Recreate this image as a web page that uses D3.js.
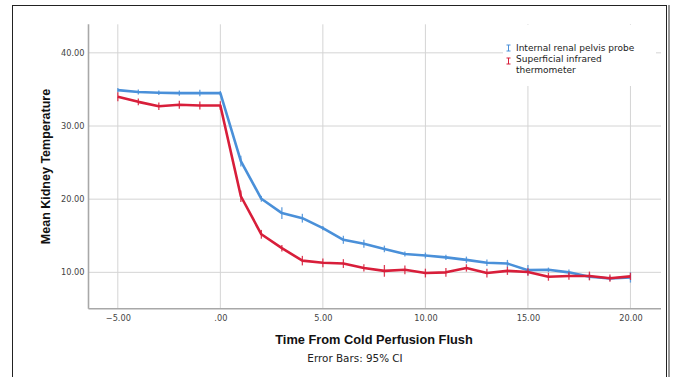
<!DOCTYPE html>
<html>
<head>
<meta charset="utf-8">
<script src="https://cdnjs.cloudflare.com/ajax/libs/d3/7.8.5/d3.min.js"></script>
<style>
  html, body { margin: 0; padding: 0; background: #fff; }
  svg { display: block; font-family: "Liberation Sans", Arial, sans-serif; }
</style>
</head>
<body>
<svg id="chart" width="675" height="377"></svg>
<script>
const times = [-5,-4,-3,-2,-1,0,1,2,3,4,5,6,7,8,9,10,11,12,13,14,15,16,17,18,19,20];
const probeMean = [34.9,34.65,34.55,34.5,34.5,34.5,25.2,20.05,18.1,17.4,16.05,14.45,13.9,13.2,12.5,12.3,12.05,11.7,11.3,11.2,10.3,10.35,10.0,9.4,9.15,9.3];
const probeCI   = [0.3,0.35,0.3,0.35,0.45,0.3,0.75,0.4,0.8,0.6,0.3,0.55,0.55,0.45,0.35,0.4,0.35,0.45,0.45,0.5,0.7,0.3,0.4,0.45,0.35,0.7];
const irMean    = [34.0,33.3,32.7,32.9,32.8,32.8,20.4,15.2,13.3,11.6,11.3,11.2,10.6,10.2,10.35,9.9,10.0,10.6,9.9,10.2,10.05,9.4,9.5,9.5,9.2,9.45];
const irCI      = [0.6,0.45,0.5,0.55,0.55,0.6,0.8,0.6,0.45,0.65,0.6,0.6,0.5,0.8,0.6,0.6,0.6,0.5,0.6,0.55,0.5,0.55,0.5,0.6,0.5,0.5];
const xTicks = [-5,0,5,10,15,20];
const yTicks = [10,20,30,40];
const seriesNames = ["Internal renal pelvis probe", "Superficial infrared\nthermometer"];
const seriesColors = ["#4a90d9", "#d81e3a"];

const svg = d3.select("#chart");

// outer frame
svg.append("rect").attr("x",12.5).attr("y",5.5).attr("width",654).attr("height",400)
  .attr("fill","none").attr("stroke","#222").attr("stroke-width",1);
svg.append("line").attr("x1",669).attr("x2",669).attr("y1",5).attr("y2",377)
  .attr("stroke","#555").attr("stroke-width",1.2);

const x = d3.scaleLinear().domain([-6.43, 21.49]).range([88.5, 661]);
const y = d3.scaleLinear().domain([5.03, 43.9]).range([308.7, 24.3]);

const fmt = v => v === 0 ? ".00" : d3.format(".2f")(v);

// grid
svg.append("g").selectAll("line").data(yTicks).join("line")
  .attr("x1", x.range()[0]).attr("x2", x.range()[1])
  .attr("y1", d => y(d)).attr("y2", d => y(d))
  .attr("stroke","#d4d4d4").attr("stroke-width",1);
svg.append("g").selectAll("line").data(xTicks).join("line")
  .attr("x1", d => x(d)).attr("x2", d => x(d))
  .attr("y1", y.range()[0]).attr("y2", y.range()[1])
  .attr("stroke","#d4d4d4").attr("stroke-width",1);

// axes
const yAxis = svg.append("g").attr("transform",`translate(${x.range()[0]},0)`)
  .call(d3.axisLeft(y).tickValues(yTicks).tickFormat(fmt).tickSize(0).tickPadding(4));
const xAxis = svg.append("g").attr("transform",`translate(0,${y.range()[0]})`)
  .call(d3.axisBottom(x).tickValues(xTicks).tickFormat(fmt).tickSize(0).tickPadding(6));
[yAxis, xAxis].forEach(a => {
  a.select(".domain").attr("stroke","#a8a8a8").attr("stroke-width",1.6);
  a.selectAll("text").attr("font-size",8.2).attr("fill","#444")
    .attr("font-family","'DejaVu Sans', sans-serif");
});
xAxis.select(".domain").attr("d", `M${x.range()[0]},0H${x.range()[1]}`);
yAxis.select(".domain").attr("d", `M0,${y.range()[0]}V${y.range()[1]}`);

// legend background (hides grid)
svg.append("rect").attr("x",503).attr("y",25).attr("width",153).attr("height",61).attr("fill","#fff");

// series
const series = [
  {name: seriesNames[0], mean: probeMean, ci: probeCI, color: seriesColors[0]},
  {name: seriesNames[1], mean: irMean, ci: irCI, color: seriesColors[1]}
];
const line = d3.line().x(d => x(d.t)).y(d => y(d.m));
series.forEach(s => {
  const pts = times.map((t,i) => ({t, m: s.mean[i], c: s.ci[i]}));
  const g = svg.append("g");
  g.append("path").datum(pts).attr("d", line).attr("fill","none")
    .attr("stroke", s.color).attr("stroke-width",2.6).attr("stroke-linejoin","round");
  g.selectAll("line.eb").data(pts).join("line").attr("class","eb")
    .attr("x1", d => x(d.t)).attr("x2", d => x(d.t))
    .attr("y1", d => y(d.m - d.c)).attr("y2", d => y(d.m + d.c))
    .attr("stroke", s.color).attr("stroke-width",1.3).attr("opacity",0.85);
});

// legend
const legend = svg.append("g");
series.forEach((s,i) => {
  const cy = i === 0 ? 48 : 61;
  const lg = legend.append("g").attr("stroke", s.color).attr("stroke-width",1);
  lg.append("line").attr("x1",508.5).attr("x2",508.5).attr("y1",cy-3).attr("y2",cy+3);
  lg.append("line").attr("x1",506.5).attr("x2",510.5).attr("y1",cy-3).attr("y2",cy-3);
  lg.append("line").attr("x1",506.5).attr("x2",510.5).attr("y1",cy+3).attr("y2",cy+3);
  const lines = s.name.split("\n");
  lines.forEach((ln,j) => {
    legend.append("text").attr("x",516)
      .attr("y", (i === 0 ? 51 : 62) + j * 10.6)
      .attr("font-size",9).attr("fill","#222")
      .attr("font-family","'DejaVu Sans', sans-serif")
      .text(ln);
  });
});

// titles
svg.append("text").attr("transform",`translate(50,${(y.range()[0]+y.range()[1])/2}) rotate(-90)`)
  .attr("text-anchor","middle").attr("font-size",12.5).attr("font-weight","bold").attr("fill","#111")
  .text("Mean Kidney Temperature");
svg.append("text").attr("x",374).attr("y",343.5).attr("text-anchor","middle")
  .attr("font-size",12.8).attr("font-weight","bold").attr("fill","#111")
  .text("Time From Cold Perfusion Flush");
svg.append("text").attr("x",355).attr("y",362).attr("text-anchor","middle")
  .attr("font-size",10.4).attr("fill","#222").attr("font-family","'DejaVu Sans', sans-serif")
  .text("Error Bars: 95% CI");
</script>
</body>
</html>
